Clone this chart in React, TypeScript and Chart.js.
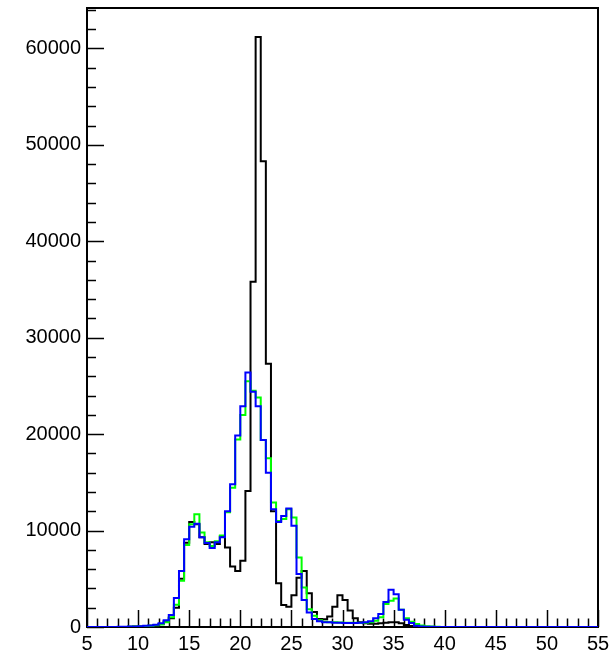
import React, { useEffect, useRef } from "react";
import { Chart, registerables } from "chart.js";

Chart.register(...registerables);

// Histogram binning: 100 bins of width 0.5 from 5 to 55
const xMin = 5;
const xMax = 55;
const binWidth = 0.5;
const yMax = 64200;

const xTickValues = [5, 10, 15, 20, 25, 30, 35, 40, 45, 50, 55];
const yTickValues = [0, 10000, 20000, 30000, 40000, 50000, 60000];

// counts per bin (bin i starts at xMin + i*binWidth)
const blackCounts = [
  0, 0, 0, 0, 0, 0, 10, 10, 20, 40,
  60, 80, 120, 200, 300, 600, 900, 2000, 5000, 8750,
  10900, 10650, 9300, 8600, 8800, 8600, 9400, 8250, 6270, 5820,
  6860, 14100, 35800, 61200, 48300, 27300, 12000, 4550, 2270, 2100,
  3300, 5100, 5800, 3500, 1550, 830, 800, 1100, 2100, 3300,
  2800, 1700, 900, 500, 400, 350, 350, 400, 450, 500,
  500, 400, 200, 100, 50, 20, 0, 0, 0, 0,
  0, 0, 0, 0, 0, 0, 0, 0, 0, 0,
  0, 0, 0, 0, 0, 0, 0, 0, 0, 0,
  0, 0, 0, 0, 0, 0, 0, 0, 0, 0,
];

const greenCounts = [
  0, 0, 0, 0, 0, 0, 10, 10, 20, 40,
  60, 90, 130, 180, 250, 480, 1000, 2300, 4800, 8500,
  10650, 11700, 9800, 8800, 8400, 8900, 9500, 11900, 14450, 19450,
  22000, 25500, 24500, 23800, 19400, 17500, 12900, 11000, 11200, 12200,
  11350, 7200, 4100, 1830, 1170, 700, 550, 500, 480, 470,
  450, 440, 430, 430, 450, 500, 650, 1000, 2380, 2720,
  2960, 1800, 900, 550, 310, 150, 80, 40, 20, 0,
  0, 0, 0, 0, 0, 0, 0, 0, 0, 0,
  0, 0, 0, 0, 0, 0, 0, 0, 0, 0,
  0, 0, 0, 0, 0, 0, 0, 0, 0, 0,
];

const blueCounts = [
  0, 0, 0, 0, 0, 10, 20, 20, 40, 60,
  90, 120, 160, 240, 380, 700, 1250, 3000, 5800, 9100,
  10400, 10700, 9300, 8700, 8200, 8800, 9300, 12000, 14800, 19850,
  22900, 26400, 24400, 22900, 19400, 16000, 12200, 10900, 11500, 12300,
  10500, 5500, 2800, 1500, 830, 600, 500, 480, 450, 450,
  420, 420, 420, 450, 500, 600, 900, 1340, 2600, 3860,
  3400, 1800, 760, 410, 140, 60, 30, 20, 10, 0,
  0, 0, 0, 0, 0, 0, 0, 0, 0, 0,
  0, 0, 0, 0, 0, 0, 0, 0, 0, 0,
  0, 0, 0, 0, 0, 0, 0, 0, 0, 0,
];

function toSteps(counts: number[]) {
  const pts = counts.map((v, i) => ({ x: xMin + i * binWidth, y: v }));
  pts.push({ x: xMin + counts.length * binWidth, y: counts[counts.length - 1] });
  return pts;
}

const FONT = "'Liberation Sans', Arial, Helvetica, sans-serif";

const framePlugin = {
  id: "rootFrame",
  beforeDatasetsDraw(chart: any) {
    const { ctx, chartArea } = chart;
    const xs = chart.scales.x;
    const ys = chart.scales.y;
    ctx.save();
    ctx.strokeStyle = "#000";
    ctx.lineWidth = 1.5;
    // x ticks (inward)
    for (let v = xMin; v <= xMax + 1e-9; v += 1) {
      const px = Math.round(xs.getPixelForValue(v)) + 0.5;
      const len = v % 5 === 0 ? 17 : 8.5;
      ctx.beginPath();
      ctx.moveTo(px, chartArea.bottom);
      ctx.lineTo(px, chartArea.bottom - len);
      ctx.stroke();
    }
    // y ticks (inward)
    for (let v = 0; v <= yMax; v += 2000) {
      const py = Math.round(ys.getPixelForValue(v)) + 0.5;
      const len = v % 10000 === 0 ? 17 : 9;
      ctx.beginPath();
      ctx.moveTo(chartArea.left, py);
      ctx.lineTo(chartArea.left + len, py);
      ctx.stroke();
    }
    // frame
    ctx.lineWidth = 2;
    ctx.strokeRect(chartArea.left, chartArea.top, chartArea.right - chartArea.left, chartArea.bottom - chartArea.top);
    ctx.restore();
  },
};

export default function App() {
  const ref = useRef<HTMLCanvasElement | null>(null);
  useEffect(() => {
    if (!ref.current) return;
    const mk = (label: string, counts: number[], color: string) => ({
      label,
      data: toSteps(counts),
      borderColor: color,
      backgroundColor: color,
      borderWidth: 2,
      pointRadius: 0,
      fill: false,
      stepped: "before" as const,
      tension: 0,
    });
    const chart = new Chart(ref.current, {
      type: "line",
      data: {
        datasets: [
          mk("blue", blueCounts, "#0000ff"),
          mk("green", greenCounts, "#00ff00"),
          mk("black", blackCounts, "#000000"),
        ],
      },
      options: {
        animation: false,
        responsive: false,
        maintainAspectRatio: false,
        layout: { padding: { top: 8, right: 14, left: 0, bottom: 0 } },
        plugins: { legend: { display: false }, tooltip: { enabled: false } },
        scales: {
          x: {
            type: "linear",
            min: xMin,
            max: xMax,
            grid: { display: false, drawTicks: false },
            border: { display: false },
            afterBuildTicks: (s: any) => {
              s.ticks = xTickValues.map((v) => ({ value: v }));
            },
            afterFit: (s: any) => {
              s.height = 28;
              s.paddingLeft = 0;
              s.paddingRight = 0;
            },
            ticks: {
              autoSkip: false,
              maxRotation: 0,
              padding: 5,
              color: "#000",
              font: { family: FONT, size: 20 },
              callback: (v: any) => String(v),
            },
          },
          y: {
            type: "linear",
            min: 0,
            max: yMax,
            grid: { display: false, drawTicks: false },
            border: { display: false },
            afterBuildTicks: (s: any) => {
              s.ticks = yTickValues.map((v) => ({ value: v }));
            },
            afterFit: (s: any) => {
              s.width = 87;
              s.paddingTop = 0;
              s.paddingBottom = 0;
            },
            ticks: {
              padding: 6,
              color: "#000",
              font: { family: FONT, size: 20 },
              callback: (v: any) => String(v),
            },
          },
        },
      },
      plugins: [framePlugin],
    });
    return () => chart.destroy();
  }, []);
  return (
    <div style={{ position: "absolute", left: 0, top: 0, width: 612, height: 655, background: "#fff" }}>
      <canvas ref={ref} width={612} height={655} style={{ display: "block" }} />
    </div>
  );
}
